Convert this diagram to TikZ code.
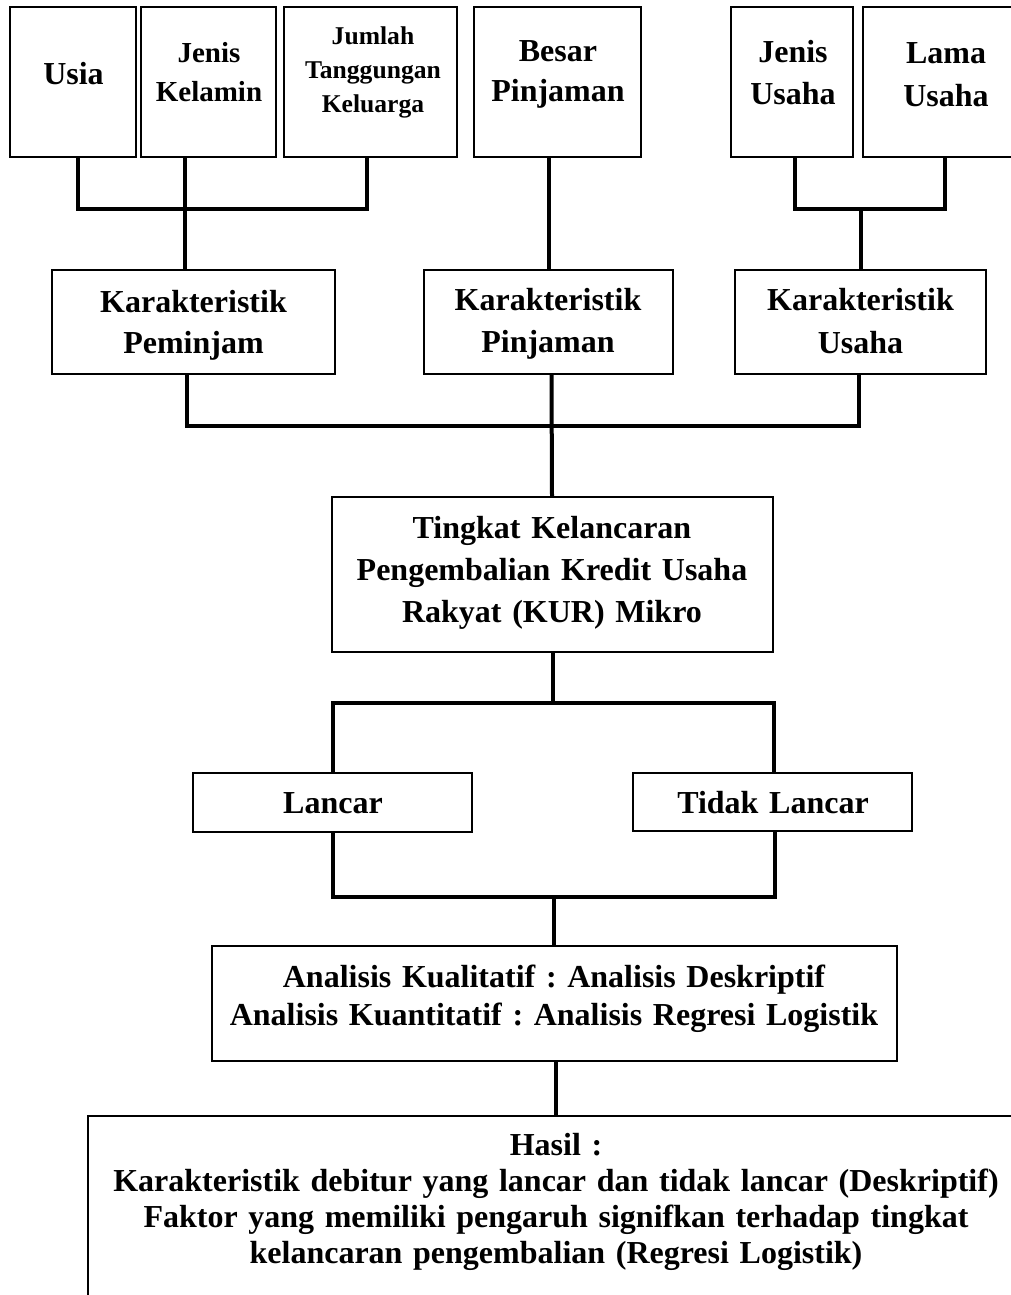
\documentclass[tikz,border=0pt]{standalone}
\usepackage{fontspec}
\setmainfont{Liberation Serif}
\newcommand\fsz[2]{\fontsize{#1}{#2}\selectfont}
\frenchspacing
\begin{document}
\begin{tikzpicture}[x=1pt,y=-1pt,
  box/.style={draw=black, line width=2pt, inner sep=0pt},
  txt/.style={anchor=base, text width=1000pt, align=center, inner sep=0pt, font=\bfseries\fsz{32}{42}},
  conn/.style={line width=4pt, line join=miter}]
\useasboundingbox (0,0) rectangle (1011,1295);
\fill[white] (0,0) rectangle (1011,1295);
\begin{scope}
\clip (0,0) rectangle (1011,1295);
% top row boxes
\node[box, minimum width=126, minimum height=150] (usia) at (73,82) {};
\node[box, minimum width=135, minimum height=150] (jk) at (208.5,82) {};
\node[box, minimum width=173, minimum height=150] (jtk) at (370.5,82) {};
\node[box, minimum width=167, minimum height=150] (bp) at (557.5,82) {};
\node[box, minimum width=122, minimum height=150] (ju) at (792,82) {};
\node[box, minimum width=164, minimum height=150] (lu) at (945,82) {};
\node[txt, font=\bfseries\fsz{32}{40}] (usiaT) at (73.5,85) {Usia};
\node[txt, font=\bfseries\fsz{29}{39}] (jkT) at (209,63) {Jenis\\Kelamin};
\node[txt, font=\bfseries\fsz{25.6}{34}] (jtkT) at (373,45) {Jumlah\\Tanggungan\\Keluarga};
\node[txt, font=\bfseries\fsz{32}{40}] (bpT) at (558,62) {Besar\\Pinjaman};
\node[txt, font=\bfseries\fsz{32}{42}] (juT) at (793,63) {Jenis\\Usaha};
\node[txt, font=\bfseries\fsz{32}{43}] (luT) at (946,64) {Lama\\Usaha};
% second row
\node[box, minimum width=283, minimum height=104] (kp) at (193.5,322) {};
\node[box, minimum width=249, minimum height=104] (kpj) at (548.5,322) {};
\node[box, minimum width=251, minimum height=104] (ku) at (860.5,322) {};
\node[txt, font=\bfseries\fsz{32}{41}] (kpT) at (193.5,312) {Karakteristik\\Peminjam};
\node[txt, font=\bfseries\fsz{32}{42}] (kpjT) at (548,310) {Karakteristik\\Pinjaman};
\node[txt, font=\bfseries\fsz{32}{43}] (kuT) at (860.5,310) {Karakteristik\\Usaha};
% central
\node[box, minimum width=441, minimum height=155] (tk) at (552.5,574.5) {};
\node[txt, font=\bfseries\fsz{32}{42}] (tkT) at (552,538) {Tingkat Kelancaran\\Pengembalian Kredit Usaha\\Rakyat (KUR) Mikro};
\node[box, minimum width=279, minimum height=59] (ln) at (332.5,802.5) {};
\node[box, minimum width=279, minimum height=58] (tl) at (772.5,802) {};
\node[txt] (lnT) at (333,813) {Lancar};
\node[txt] (tlT) at (773,813) {Tidak Lancar};
\node[box, minimum width=685, minimum height=115] (an) at (554.5,1003.5) {};
\node[txt, font=\bfseries\fsz{32}{38}] (anT) at (554,987) {Analisis Kualitatif : Analisis Deskriptif\\Analisis Kuantitatif : Analisis Regresi Logistik};
\node[box, minimum width=936, minimum height=200] (hs) at (556,1216) {};
\node[txt, font=\bfseries\fsz{32}{36}] (hsT) at (556,1155) {Hasil :\\Karakteristik debitur yang lancar dan tidak lancar (Deskriptif)\\Faktor yang memiliki pengaruh signifkan terhadap tingkat\\kelancaran pengembalian (Regresi Logistik)};
% junctions
\coordinate (jA) at (185,209);
\coordinate (jC) at (861,209);
\coordinate (jD) at (552,426);
\coordinate (jE) at (552.5,703);
\coordinate (jF) at (554,897);
% connectors
\draw[conn] ([xshift=4.5]usia.south) |- (jA) -| ([xshift=-3.5]jtk.south);
\draw[conn] ([xshift=-23.5]jk.south) -- ([xshift=-8.5]kp.north);
\draw[conn] ([xshift=-8.5]bp.south) -- ([xshift=0.5]kpj.north);
\draw[conn] ([xshift=3]ju.south) |- (jC) -| (lu.south);
\draw[conn] (jC) -- ([xshift=0.5]ku.north);
\draw[conn] ([xshift=-6.5]kp.south) |- (jD) -| ([xshift=-1.5]ku.south);
\draw[conn] ([xshift=3]kpj.south) -- ([xshift=-0.5]tk.north);
\draw[conn] (tk.south) -- (jE);
\draw[conn] ([xshift=0.5]ln.north) |- (jE) -| ([xshift=1.5]tl.north);
\draw[conn] ([xshift=0.5]ln.south) |- (jF) -| ([xshift=2.5]tl.south);
\draw[conn] (jF) -- ([xshift=-0.5]an.north);
\draw[conn] ([xshift=1.5]an.south) -- (hs.north);
\end{scope}
\end{tikzpicture}
\end{document}
